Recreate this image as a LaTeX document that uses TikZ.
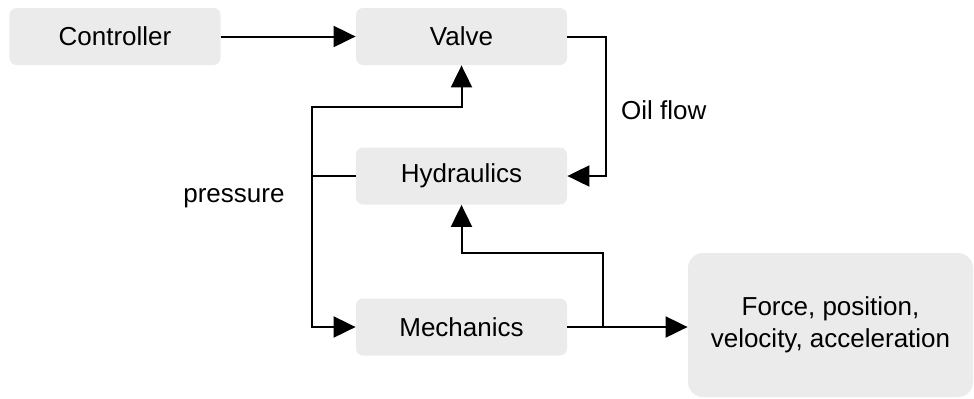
\documentclass[tikz,border=0pt]{standalone}
\usepackage{fontspec}
\setmainfont{Liberation Sans}
\usepackage{xcolor}
\usetikzlibrary{arrows.meta,positioning,calc}

\definecolor{boxgray}{HTML}{EBEBEB}

\begin{document}
\begin{tikzpicture}[node distance=70pt, auto,
  block/.style={rectangle, fill=boxgray, rounded corners=3.5pt, minimum width=105.5pt, minimum height=28.5pt, font=\fontsize{13pt}{16pt}\selectfont},
  result/.style={rectangle, fill=boxgray, rounded corners=7.5pt, minimum width=142.5pt, minimum height=72pt, align=center, font=\fontsize{13pt}{16pt}\selectfont},
  label/.style={font=\fontsize{13pt}{16pt}\selectfont},
  line/.style={draw, line width=1pt, -{Triangle[length=11pt, width=10.5pt]}},
  plain/.style={draw, line width=1pt}]

  \useasboundingbox (-57.5pt,18.25pt) rectangle (429.5pt,-180.75pt);

  \node [block] (ctrl) {Controller};
  \node [block, right of=ctrl, xshift=103.25pt] (valve) {Valve};
  \node [block, below of=valve, yshift=0.25pt] (hyd) {Hydraulics};
  \node [block, below of=hyd, yshift=-5.5pt] (mech) {Mechanics};
  \node [result, right of=mech, xshift=114.5pt, yshift=1pt] (out) {Force, position,\\velocity, acceleration};

  \coordinate (split) at ([xshift=-22pt]hyd.west);
  \coordinate (tap) at ([xshift=18pt]mech.east);
  \node [label, left=10pt of split, yshift=-11pt] (plabel) {pressure};

  \path [line] (ctrl) -- (valve);
  \path [line] (valve.east) -- ++(19.5pt,0) |- node[label, pos=0.25, right, xshift=3.5pt, yshift=-2pt]{Oil flow} (hyd.east);
  \path [plain] (hyd.west) -- (split);
  \path [line] (split) |- ([yshift=-21pt]valve.south) -- (valve.south);
  \path [line] (split) |- (mech.west);
  \path [line] (mech.east) -- (mech.east -| out.west);
  \path [line] (tap) |- ([yshift=-24pt]hyd.south) -- (hyd.south);
\end{tikzpicture}
\end{document}
